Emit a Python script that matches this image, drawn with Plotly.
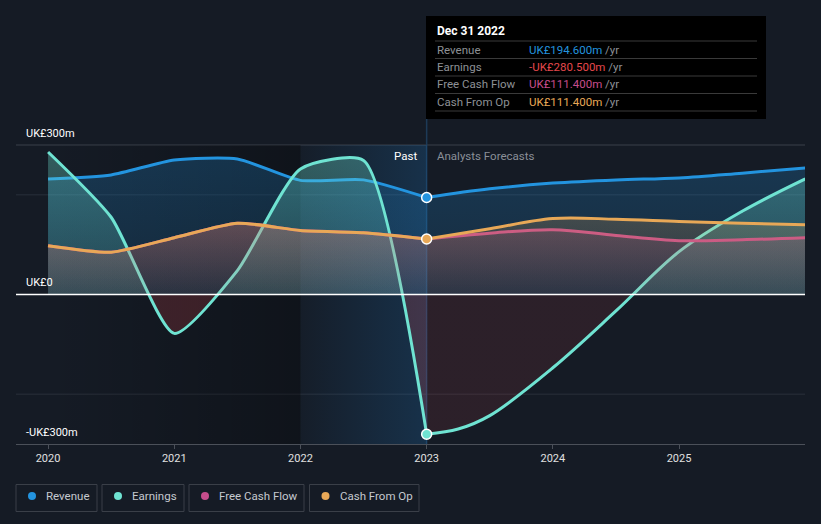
import plotly.graph_objects as go

# ---------------- data (UK£ m) ----------------
past_x = [2020.0, 2020.5, 2021.0, 2021.5, 2022.0, 2022.5, 2023.0]
fc_x = [2023.0, 2023.5, 2024.0, 2024.5, 2025.0, 2025.5, 2026.0]
earnings_fc_x = [2023.0, 2023.25, 2023.5, 2024.0, 2024.5, 2025.0, 2025.5, 2026.0]

revenue_past = [232, 240, 270, 272, 229, 230, 194.6]
revenue_fc = [194.6, 212, 223.5, 230, 234, 243.5, 254]

earnings_past = [286, 155, -78, 48, 252, 269, -280.5]
earnings_fc = [-280.5, -270, -243, -147, -33, 86, 167, 232]

fcf_past = [98, 85, 114, 143, 128.5, 124, 111.4]
fcf_fc = [111.4, 123, 130, 118.5, 108, 110, 114]

cfo_past = [98, 85, 114, 143, 128.5, 124, 111.4]
cfo_fc = [111.4, 132, 152.5, 151, 146.5, 143, 140]

x_tick_vals = [2020, 2021, 2022, 2023, 2024, 2025]
x_tick_text = ["2020", "2021", "2022", "2023", "2024", "2025"]
y_labels = {300: "UK£300m", 0: "UK£0", -300: "-UK£300m"}
grid_vals = [300, 200, -200]

tooltip_title = "Dec 31 2022"
tooltip_rows = [("Revenue", "UK£194.600m"), ("Earnings", "-UK£280.500m"),
                ("Free Cash Flow", "UK£111.400m"), ("Cash From Op", "UK£111.400m")]
legend_names = ["Revenue", "Earnings", "Free Cash Flow", "Cash From Op"]

# ---------------- style ----------------
BG = "#151b25"
C_REV = "#2394DF"
C_EARN = "#6FE3D2"
C_FCF = "#C64D8C"
C_CFO = "#E8A857"
C_NEG = "#E5484D"
FONT = "Roboto, 'Open Sans', sans-serif"

W, H = 821, 524
L, R, T, B = 16, 16, 145, 80
XR = [2019.746, 2025.998]
YR = [-300, 300]


def px(p):
    return (p - L) / (W - L - R)


def py(p):
    return (H - B - p) / (H - T - B)


def vgrad(rgb, a0, a1, top):
    return dict(type="vertical", start=0, stop=top,
                colorscale=[[0, f"rgba({rgb},{a0})"], [1, f"rgba({rgb},{a1})"]])


def earn_grad(neg_a):
    return dict(type="vertical", start=-300, stop=300,
                colorscale=[[0, f"rgba(229,72,77,{neg_a})"], [0.5, f"rgba(229,72,77,{neg_a})"],
                            [0.5, "rgba(111,227,210,0.14)"], [1, "rgba(111,227,210,0.34)"]])


fig = go.Figure()

# background bands (past shading)
fig.add_trace(go.Scatter(
    x=[2020, 2022, 2022, 2020, 2020], y=[-300, -300, 300, 300, -300],
    mode="lines", line=dict(width=0), fill="toself",
    fillgradient=dict(type="horizontal", start=2020, stop=2022,
                      colorscale=[[0, "rgba(0,0,0,0.0)"], [1, "rgba(0,0,0,0.28)"]]),
    hoverinfo="skip", showlegend=False))
fig.add_trace(go.Scatter(
    x=[2022, 2023, 2023, 2022, 2022], y=[-300, -300, 300, 300, -300],
    mode="lines", line=dict(width=0), fill="toself",
    fillgradient=dict(type="horizontal", start=2022, stop=2023,
                      colorscale=[[0, "rgba(33,150,243,0.02)"], [1, "rgba(33,150,243,0.18)"]]),
    hoverinfo="skip", showlegend=False))


def add_series(xs, ys, color, grad, sm):
    fig.add_trace(go.Scatter(
        x=xs, y=ys, mode="lines",
        line=dict(color=color, width=3, shape="spline", smoothing=sm),
        fill="tozeroy", fillgradient=grad, hoverinfo="skip", showlegend=False))


for xs, exs, rv, ea, fc, cf, neg_a, sm in [
        (past_x, past_x, revenue_past, earnings_past, fcf_past, cfo_past, 0.2, 0.6),
        (fc_x, earnings_fc_x, revenue_fc, earnings_fc, fcf_fc, cfo_fc, 0.11, 1.0)]:
    add_series(xs, rv, C_REV, vgrad("35,147,223", 0.14, 0.24, 280), sm)
    add_series(exs, ea, C_EARN, earn_grad(neg_a), sm)
    add_series(xs, fc, C_FCF, vgrad("198,77,140", 0.05, 0.24, 150), sm)
    add_series(xs, cf, C_CFO, vgrad("232,168,87", 0.06, 0.2, 150), sm)

# markers at the hovered date
for ys, col in [(revenue_past, C_REV), (earnings_past, C_EARN), (cfo_past, C_CFO)]:
    fig.add_trace(go.Scatter(x=[past_x[-1]], y=[ys[-1]], mode="markers",
                             marker=dict(size=10, color=col, line=dict(color="white", width=1.5)),
                             hoverinfo="skip", showlegend=False, cliponaxis=False))

shapes = []
# grid lines
for v in grid_vals:
    yy = (v - YR[0]) / (YR[1] - YR[0])
    col = "#3b414b" if v == 300 else "#29303b"
    shapes.append(dict(type="line", xref="paper", yref="paper", x0=0, x1=1, y0=yy, y1=yy,
                       line=dict(color=col, width=1), layer="below"))
yz = (0 - YR[0]) / (YR[1] - YR[0])
shapes.append(dict(type="line", xref="paper", yref="paper", x0=0, x1=1, y0=yz, y1=yz,
                   line=dict(color="#ffffff", width=1.5), layer="above"))

# hover vertical line
shapes.append(dict(type="line", xref="x", yref="paper", x0=past_x[-1], x1=past_x[-1],
                   y0=0, y1=py(119), line=dict(color="#1d3a57", width=1.5), layer="below"))

# tooltip box
shapes.append(dict(type="rect", xref="paper", yref="paper", x0=px(426), x1=px(766),
                   y0=py(119), y1=py(16), fillcolor="#000000", line=dict(width=0), layer="above"))
for sep in [41, 58.5, 76, 93.5, 111]:
    shapes.append(dict(type="line", xref="paper", yref="paper", x0=px(435), x1=px(757),
                       y0=py(sep), y1=py(sep), line=dict(color="#3a3a3a", width=1), layer="above"))

annotations = []
annotations.append(dict(xref="paper", yref="paper", x=px(435), y=py(31), text="<b>" + tooltip_title + "</b>",
                        showarrow=False, xanchor="left", yanchor="middle",
                        font=dict(family=FONT, size=12, color="#ffffff")))
row_cols = [C_REV, C_NEG, C_FCF, C_CFO]
for i, ((lab, val), col) in enumerate(zip(tooltip_rows, row_cols)):
    yc = 49.5 + i * 17.4
    annotations.append(dict(xref="paper", yref="paper", x=px(435), y=py(yc), text=lab,
                            showarrow=False, xanchor="left", yanchor="middle",
                            font=dict(family=FONT, size=11.5, color="#8e9196")))
    annotations.append(dict(xref="paper", yref="paper", x=px(527), y=py(yc),
                            text=f"<span style='color:{col}'>{val}</span> /yr",
                            showarrow=False, xanchor="left", yanchor="middle",
                            font=dict(family=FONT, size=11.5, color="#8e9196")))

# y labels
for v, t in y_labels.items():
    ypix = 294.5 - v * (299 / 600) - 12
    annotations.append(dict(xref="paper", yref="paper", x=px(24), y=py(ypix), text=t,
                            showarrow=False, xanchor="left", yanchor="middle",
                            font=dict(family=FONT, size=11, color="#ffffff")))

# Past / Forecast labels
annotations.append(dict(xref="paper", yref="paper", x=px(419), y=py(156), text="Past",
                        showarrow=False, xanchor="right", yanchor="middle",
                        font=dict(family=FONT, size=11.5, color="#ffffff")))
annotations.append(dict(xref="paper", yref="paper", x=px(435), y=py(156), text="Analysts Forecasts",
                        showarrow=False, xanchor="left", yanchor="middle",
                        font=dict(family=FONT, size=11.5, color="#8a8f98")))

# legend boxes
boxes = [(16, 97), (102, 184), (189, 304), (309.5, 419)]
for (bx0, bx1), name, col in zip(boxes, legend_names, [C_REV, C_EARN, C_FCF, C_CFO]):
    shapes.append(dict(type="rect", xref="paper", yref="paper", x0=px(bx0), x1=px(bx1),
                       y0=py(511.5), y1=py(484.5), line=dict(color="#3a3f48", width=1),
                       fillcolor=BG, layer="above"))
    cx = bx0 + 16
    shapes.append(dict(type="circle", xref="paper", yref="paper", x0=px(cx - 4), x1=px(cx + 4),
                       y0=py(500), y1=py(492), fillcolor=col, line=dict(width=0), layer="above"))
    annotations.append(dict(xref="paper", yref="paper", x=px(bx0 + 28), y=py(496), text=name,
                            showarrow=False, xanchor="left", yanchor="middle",
                            font=dict(family=FONT, size=11.5, color="#c5c9cf")))

fig.update_layout(
    width=W, height=H,
    margin=dict(l=L, r=R, t=T, b=B, pad=0),
    paper_bgcolor=BG, plot_bgcolor=BG,
    showlegend=False,
    shapes=shapes, annotations=annotations,
    xaxis=dict(range=XR, tickvals=x_tick_vals, ticktext=x_tick_text, showgrid=False,
               zeroline=False, showline=True, linecolor="#4b5059", linewidth=1,
               ticks="outside", ticklen=4, tickcolor="#4b5059",
               tickfont=dict(family=FONT, size=11, color="#e0e0e0"), fixedrange=True),
    yaxis=dict(range=YR, showgrid=False, zeroline=False, showticklabels=False,
               fixedrange=True),
)

fig.write_html("out.html")
